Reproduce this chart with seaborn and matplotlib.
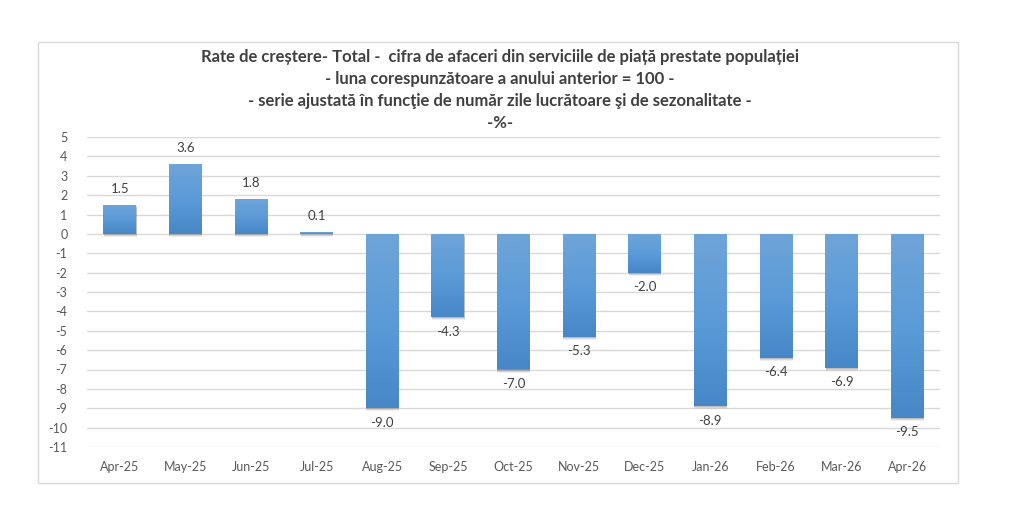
import matplotlib
matplotlib.use("Agg")
import matplotlib.pyplot as plt
import seaborn as sns
import pandas as pd
import numpy as np
from matplotlib.patches import Rectangle
from matplotlib.colors import LinearSegmentedColormap

months = ["Apr-25", "May-25", "Jun-25", "Jul-25", "Aug-25", "Sep-25", "Oct-25",
          "Nov-25", "Dec-25", "Jan-26", "Feb-26", "Mar-26", "Apr-26"]
values = [1.5, 3.6, 1.8, 0.1, -9.0, -4.3, -7.0, -5.3, -2.0, -8.9, -6.4, -6.9, -9.5]
yticks = list(range(5, -12, -1))

title_lines = [
    "Rate de creștere- Total -  cifra de afaceri din serviciile de piață prestate populației",
    "- luna corespunzătoare a anului anterior = 100 -",
    "- serie ajustată în funcţie de număr zile lucrătoare şi de sezonalitate -",
    "-%-",
]

sns.set_theme(style="white")
plt.rcParams['font.family'] = ['Lato', 'DejaVu Sans']

df = pd.DataFrame({"month": months, "value": values})

fig = plt.figure(figsize=(10.24, 5.17), dpi=100)
fig.patches.append(Rectangle((38/1024, 1-483/517), (958-38)/1024, (483-42)/517,
                             transform=fig.transFigure, fill=False,
                             edgecolor="#d9d9d9", linewidth=1.0))
ax = fig.add_axes([87/1024, 1-447/517, (940-87)/1024, (447-137)/517])

sns.barplot(data=df, x="month", y="value", color="#5B9BD5", width=0.5,
            saturation=1, ax=ax, zorder=3, linewidth=0, edgecolor="none")

grad = LinearSegmentedColormap.from_list("g", ["#4787C7", "#5B9BD8", "#6FA4D8"])
gimg = np.linspace(0, 1, 256).reshape(-1, 1)
unit = 16 / 310.0  # data units per pixel on y
for p in list(ax.patches):
    x0, y0 = p.get_x(), p.get_y()
    w, h = p.get_width(), p.get_height()
    yb, yt = min(y0, y0 + h), max(y0, y0 + h)
    p.set_linewidth(0)
    # soft shadow below each bar
    for k, a in [(3, 0.12), (2, 0.2), (1, 0.3)]:
        ax.add_patch(Rectangle((x0 + 0.005, yb - k * unit), w, yt - yb,
                               facecolor="#7f7f7f", alpha=a, linewidth=0, zorder=2.5))
    if yt - yb > 0:
        im = ax.imshow(gimg, cmap=grad, aspect="auto", origin="lower",
                       extent=[x0, x0 + w, yb, yt], zorder=4, interpolation="bilinear")
        im.set_clip_path(p)

ax.set_ylim(-11, 5)
ax.set_yticks(yticks)
ax.set_yticklabels([str(t) for t in yticks])
ax.set_xlim(-0.5, len(months) - 0.5)
ax.grid(axis="y", color="#d9d9d9", linewidth=1, zorder=0)
ax.set_axisbelow(True)
for s in ax.spines.values():
    s.set_visible(False)
ax.set_xlabel("")
ax.set_ylabel("")
ax.tick_params(axis="both", length=0, labelsize=9, labelcolor="#595959")
ax.tick_params(axis="x", pad=10)
ax.tick_params(axis="y", pad=14)

for i, v in enumerate(values):
    if v >= 0:
        ax.annotate(f"{v:.1f}", (i, v), xytext=(0, 7), textcoords="offset points",
                    ha="center", va="bottom", fontsize=9.5, color="#404040", zorder=5)
    else:
        ax.annotate(f"{v:.1f}", (i, v), xytext=(0, -6), textcoords="offset points",
                    ha="center", va="top", fontsize=9.5, color="#404040", zorder=5)

ys = [57, 79, 101, 123]
for line, y in zip(title_lines, ys):
    fig.text(500/1024, 1 - y/517, line, ha="center", va="center", fontsize=12,
             fontweight="bold", color="#404040")

fig.savefig("out.png", dpi=100)
